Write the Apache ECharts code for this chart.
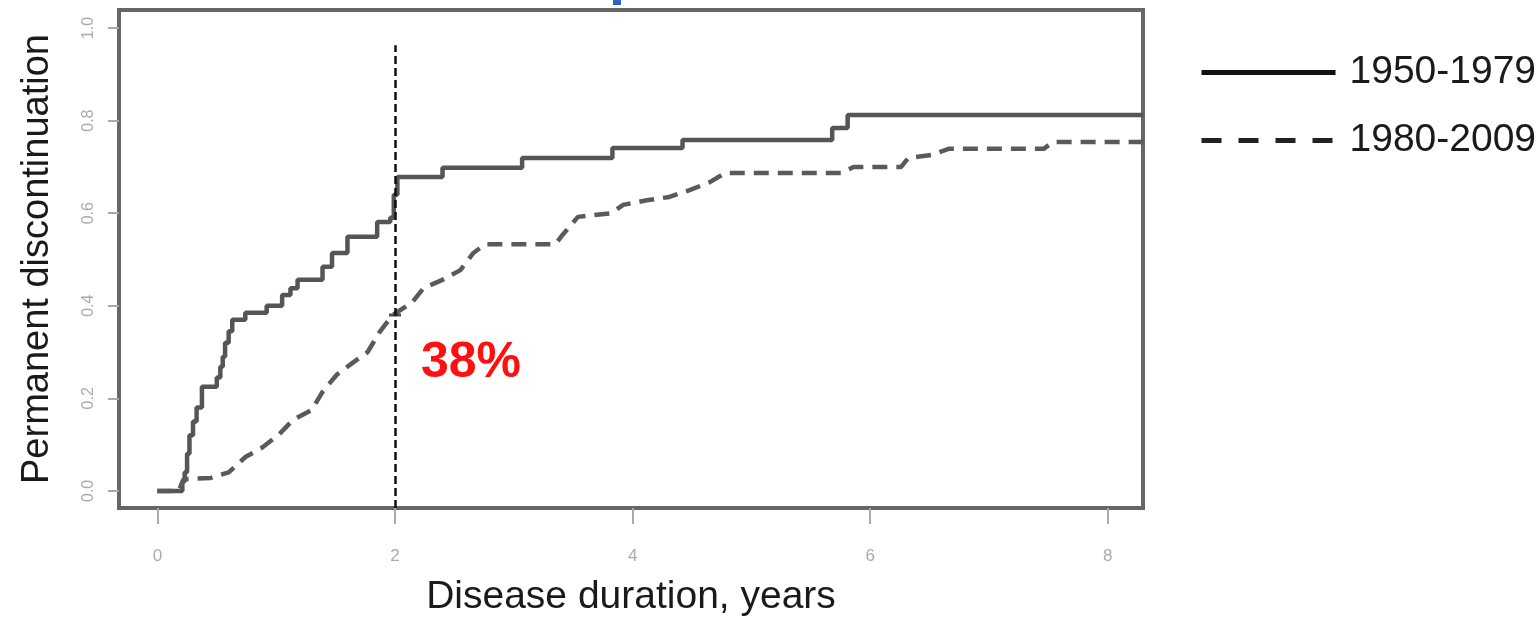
<!DOCTYPE html>
<html>
<head>
<meta charset="utf-8">
<script src="https://cdn.jsdelivr.net/npm/echarts@6/dist/echarts.min.js"></script>
<style>
  html, body { margin: 0; padding: 0; background: #ffffff; }
  #chart { width: 1540px; height: 623px; }
</style>
</head>
<body>
<div id="chart"></div>
<script>
// ---- data ----
const seriesNames = ['1950-1979', '1980-2009'];
const xTicks = [0, 2, 4, 6, 8];
const yTicks = [0, 0.2, 0.4, 0.6, 0.8, 1.0];
const xTitle = 'Disease duration, years';
const yTitle = 'Permanent discontinuation';
const annotationText = '38%';
const markX = 2;
const markTop = 0.963;
const markPointValue = [2, 0.38];

// 1950-1979 cumulative discontinuation (step function)
const early = [
  [0, 0], [0.19, 0], [0.21, 0.02], [0.23, 0.04], [0.25, 0.08], [0.27, 0.12],
  [0.30, 0.15], [0.33, 0.18], [0.375, 0.225], [0.50, 0.245], [0.53, 0.268],
  [0.55, 0.29], [0.57, 0.32], [0.60, 0.345], [0.63, 0.37], [0.74, 0.385],
  [0.92, 0.40], [1.05, 0.423], [1.12, 0.438], [1.18, 0.456], [1.39, 0.484],
  [1.47, 0.514], [1.60, 0.549], [1.85, 0.581], [1.96, 0.59], [1.99, 0.64],
  [2.02, 0.678], [2.40, 0.698], [3.07, 0.719], [3.83, 0.741], [4.42, 0.758],
  [5.68, 0.784], [5.81, 0.812], [8.30, 0.812]
];

// 1980-2009 cumulative discontinuation
const late = [
  [0, 0], [0.18, 0], [0.22, 0.025], [0.45, 0.028], [0.60, 0.04], [0.74, 0.073],
  [0.88, 0.093], [1.02, 0.121], [1.14, 0.153], [1.30, 0.175], [1.39, 0.214],
  [1.51, 0.251], [1.64, 0.276], [1.77, 0.300], [1.87, 0.343], [1.98, 0.380],
  [2.14, 0.406], [2.24, 0.438], [2.40, 0.456], [2.55, 0.477], [2.66, 0.514],
  [2.76, 0.533], [3.35, 0.533], [3.41, 0.553], [3.54, 0.592], [3.82, 0.600],
  [3.92, 0.618], [4.12, 0.628], [4.31, 0.635], [4.48, 0.650], [4.65, 0.667],
  [4.78, 0.687], [5.76, 0.687], [5.86, 0.700], [6.26, 0.700], [6.32, 0.719],
  [6.52, 0.726], [6.66, 0.739], [7.46, 0.739], [7.54, 0.754], [8.30, 0.754]
];

const FONT = '"Liberation Sans", Arial, sans-serif';
const chart = echarts.init(document.getElementById('chart'), null, { renderer: 'canvas' });

const option = {
  backgroundColor: '#ffffff',
  animation: false,
  grid: {
    left: 119, right: 397, top: 10, bottom: 115,
    show: true, borderColor: '#666666', borderWidth: 4, backgroundColor: 'transparent'
  },
  xAxis: {
    type: 'value', min: -0.323, max: 8.296,
    name: xTitle, nameLocation: 'middle', nameGap: 70,
    nameTextStyle: { fontFamily: FONT, fontSize: 39, color: '#1a1a1a' },
    axisLine: { show: false, onZero: false },
    splitLine: { show: false },
    axisTick: { show: true, customValues: xTicks, length: 16, lineStyle: { color: '#aaaaaa', width: 2 } },
    axisLabel: { customValues: xTicks, fontFamily: FONT, fontSize: 17, color: '#aaaaaa', margin: 40,
      formatter: v => String(v) }
  },
  yAxis: {
    type: 'value', min: -0.037, max: 1.039,
    name: yTitle, nameLocation: 'middle', nameGap: 62,
    nameTextStyle: { fontFamily: FONT, fontSize: 38, color: '#1a1a1a' },
    axisLine: { show: false, onZero: false },
    splitLine: { show: false },
    axisTick: { show: true, customValues: yTicks, length: 11, lineStyle: { color: '#aaaaaa', width: 2 } },
    axisLabel: { customValues: yTicks, rotate: 90, fontFamily: FONT, fontSize: 16, color: '#aaaaaa', margin: 22,
      formatter: v => v.toFixed(1) }
  },
  legend: {
    orient: 'vertical', left: 1199, top: 53, padding: 0,
    itemWidth: 134, itemHeight: 40, itemGap: 29,
    textStyle: { fontFamily: FONT, fontSize: 39, color: '#1a1a1a', padding: [8, 0, 0, 9] },
    data: [
      { name: seriesNames[0], itemStyle: { opacity: 0 }, lineStyle: { width: 5, color: '#111111', type: 'solid' } },
      { name: seriesNames[1], itemStyle: { opacity: 0 }, lineStyle: { width: 5, color: '#222222', type: [20, 17] } }
    ]
  },
  series: [
    {
      name: seriesNames[0], type: 'line', step: 'end', data: early,
      showSymbol: false, symbol: 'none',
      lineStyle: { color: '#555555', width: 4.5 },
      itemStyle: { color: '#555555' }
    },
    {
      name: seriesNames[1], type: 'line', data: late,
      showSymbol: false, symbol: 'none',
      lineStyle: { color: '#5a5a5a', width: 4.5, type: [15, 9] },
      itemStyle: { color: '#5a5a5a' },
      markLine: {
        silent: true, symbol: 'none', label: { show: false },
        lineStyle: { color: '#111111', width: 2.5, type: [8, 4] },
        data: [[{ coord: [markX, -0.037] }, { coord: [markX, markTop] }]]
      }
    },
    {
      name: 'mark', type: 'scatter', data: [markPointValue],
      symbol: 'rect', symbolSize: [12, 3], itemStyle: { color: '#222222' },
      label: { show: false }, z: 5
    }
  ],
  graphic: [
    {
      type: 'text', left: 421, top: 338,
      style: { text: annotationText, font: 'bold 50px "Liberation Sans", Arial, sans-serif', fill: '#ff1010' }
    },
    {
      type: 'rect', shape: { x: 613, y: 0, width: 8, height: 5 }, style: { fill: '#2a62c8' }
    }
  ]
};
chart.setOption(option);
</script>
</body>
</html>
